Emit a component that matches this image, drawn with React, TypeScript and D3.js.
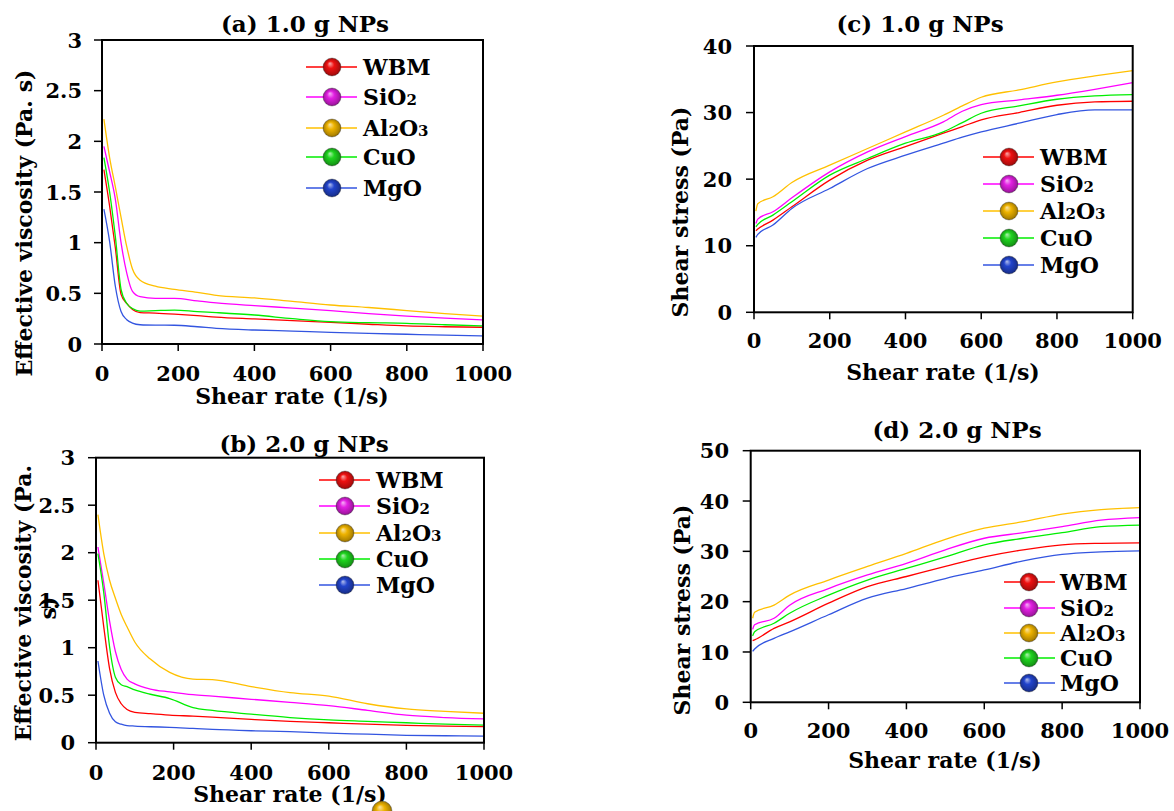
import React from 'react';
import * as d3 from 'd3';

// series names and colours
const seriesNames = ['WBM', 'SiO2', 'Al2O3', 'CuO', 'MgO'];
const lineColors = ['#ff0000', '#ff00ff', '#ffc000', '#00ee00', '#3355e0'];
const ballColors = ['#ee1111', '#e21fe2', '#eeb300', '#1fd41f', '#2244cc'];

// viscosity panels (a), (b): shear rate (1/s)
const rateVisc = [5, 20, 35, 50, 65, 80, 100, 140, 190, 250, 300, 400, 500, 600, 700, 800, 900, 1000];
// (a) 1.0 g NPs, effective viscosity (Pa.s)
const viscA_WBM = [1.72, 1.36, 0.95, 0.49, 0.40, 0.34, 0.31, 0.305, 0.295, 0.28, 0.265, 0.247, 0.23, 0.214, 0.195, 0.178, 0.17, 0.165];
const viscA_SiO2 = [1.95, 1.70, 1.43, 1.00, 0.70, 0.52, 0.467, 0.45, 0.45, 0.425, 0.405, 0.378, 0.355, 0.33, 0.30, 0.276, 0.255, 0.237];
const viscA_Al2O3 = [2.22, 1.84, 1.55, 1.25, 0.96, 0.74, 0.63, 0.57, 0.54, 0.51, 0.48, 0.455, 0.42, 0.385, 0.36, 0.33, 0.30, 0.276];
const viscA_CuO = [1.84, 1.50, 1.06, 0.54, 0.40, 0.35, 0.325, 0.33, 0.335, 0.32, 0.31, 0.286, 0.25, 0.22, 0.21, 0.204, 0.19, 0.178];
const viscA_MgO = [1.33, 1.01, 0.57, 0.32, 0.24, 0.206, 0.19, 0.186, 0.185, 0.17, 0.155, 0.138, 0.127, 0.115, 0.105, 0.096, 0.087, 0.079];
// (b) 2.0 g NPs
const viscB_WBM = [1.71, 1.22, 0.78, 0.53, 0.41, 0.35, 0.32, 0.305, 0.29, 0.28, 0.27, 0.246, 0.225, 0.21, 0.195, 0.183, 0.175, 0.17];
const viscB_SiO2 = [2.06, 1.68, 1.28, 0.96, 0.77, 0.67, 0.62, 0.565, 0.535, 0.505, 0.49, 0.457, 0.425, 0.39, 0.34, 0.29, 0.265, 0.25];
const viscB_Al2O3 = [2.40, 1.99, 1.71, 1.52, 1.35, 1.22, 1.06, 0.88, 0.74, 0.67, 0.665, 0.59, 0.527, 0.49, 0.41, 0.355, 0.33, 0.31];
const viscB_CuO = [1.99, 1.58, 1.01, 0.69, 0.61, 0.59, 0.555, 0.51, 0.465, 0.37, 0.34, 0.30, 0.265, 0.24, 0.225, 0.21, 0.195, 0.186];
const viscB_MgO = [0.86, 0.50, 0.31, 0.22, 0.195, 0.18, 0.175, 0.168, 0.162, 0.15, 0.14, 0.126, 0.116, 0.10, 0.09, 0.078, 0.073, 0.07];

// (c) 1.0 g NPs, shear stress (Pa)
const rateC = [5, 10, 50, 100, 200, 300, 400, 500, 550, 600, 700, 800, 900, 1000];
const stressC_WBM = [12.25, 12.5, 13.85, 15.85, 19.85, 22.85, 24.9, 26.9, 27.9, 28.9, 30.0, 31.1, 31.6, 31.7];
const stressC_SiO2 = [13.35, 14.0, 15.1, 17.2, 21.1, 24.1, 26.4, 28.6, 30.2, 31.2, 31.9, 32.6, 33.5, 34.5];
const stressC_Al2O3 = [15.2, 16.3, 17.35, 19.5, 22.1, 24.6, 27.1, 29.6, 31.0, 32.3, 33.4, 34.6, 35.5, 36.3];
const stressC_CuO = [12.85, 13.2, 14.6, 16.6, 20.6, 23.1, 25.4, 27.1, 28.5, 29.9, 31.0, 32.0, 32.5, 32.7];
const stressC_MgO = [11.25, 11.7, 13.1, 15.6, 18.6, 21.6, 23.6, 25.4, 26.3, 27.1, 28.4, 29.7, 30.4, 30.4];

// (d) 2.0 g NPs, shear stress (Pa)
const rateD = [5, 10, 60, 100, 200, 300, 400, 500, 600, 700, 800, 900, 1000];
const stressD_WBM = [12.25, 12.4, 14.7, 16.0, 19.7, 23.0, 25.0, 27.0, 28.9, 30.3, 31.3, 31.6, 31.7];
const stressD_SiO2 = [14.5, 15.4, 16.7, 19.3, 22.6, 25.3, 27.6, 30.3, 32.6, 33.7, 34.9, 36.2, 36.7];
const stressD_Al2O3 = [16.7, 17.9, 19.3, 21.3, 24.3, 27.0, 29.6, 32.4, 34.6, 35.9, 37.4, 38.3, 38.7];
const stressD_CuO = [13.2, 14.0, 15.7, 17.7, 21.3, 24.3, 26.6, 28.9, 31.3, 32.6, 33.7, 34.9, 35.2];
const stressD_MgO = [10.1, 10.6, 12.7, 14.0, 17.4, 20.7, 22.6, 24.6, 26.3, 28.1, 29.4, 29.9, 30.1];

const xTicks = [0, 200, 400, 600, 800, 1000];
const viscTicks = [0, 0.5, 1, 1.5, 2, 2.5, 3];
const stressTicksC = [0, 10, 20, 30, 40];
const stressTicksD = [0, 10, 20, 30, 40, 50];

const FONT = '"DejaVu Serif", "Liberation Serif", serif';

const panels = [
  {
    id: 'a', title: '(a) 1.0 g NPs', rates: rateVisc,
    series: [viscA_WBM, viscA_SiO2, viscA_Al2O3, viscA_CuO, viscA_MgO],
    box: { l: 102, r: 483, t: 40, b: 344 }, yMax: 3, yTicks: viscTicks,
    titlePos: [305, 32], yLabel: ['Effective viscosity (Pa. s)'], yLabelPos: [[24, 223]],
    yTickRight: 82, xTickBase: 381, xTitlePos: [292, 404],
    legend: { x1: 306, x2: 357, mx: 332, tx: 363, ys: [67, 97, 128, 157, 188] },
  },
  {
    id: 'b', title: '(b) 2.0 g NPs', rates: rateVisc,
    series: [viscB_WBM, viscB_SiO2, viscB_Al2O3, viscB_CuO, viscB_MgO],
    box: { l: 96, r: 484, t: 457.7, b: 742.7 }, yMax: 3, yTicks: viscTicks,
    titlePos: [304, 452], yLabel: ['Effective viscosity (Pa.', 's)'], yLabelPos: [[23, 603], [48, 608]],
    yTickRight: 75, xTickBase: 780, xTitlePos: [290, 802],
    legend: { x1: 319, x2: 370, mx: 345, tx: 376, ys: [480, 506, 533, 559, 585] },
  },
  {
    id: 'c', title: '(c) 1.0 g NPs', rates: rateC,
    series: [stressC_WBM, stressC_SiO2, stressC_Al2O3, stressC_CuO, stressC_MgO],
    box: { l: 754, r: 1132.7, t: 46, b: 312.3 }, yMax: 40, yTicks: stressTicksC,
    titlePos: [920, 32], yLabel: ['Shear stress (Pa)'], yLabelPos: [[680, 212]],
    yTickRight: 732, xTickBase: 348, xTitlePos: [943, 380],
    legend: { x1: 983, x2: 1034, mx: 1009, tx: 1040, ys: [157, 184, 211, 238, 265] },
  },
  {
    id: 'd', title: '(d) 2.0 g NPs', rates: rateD,
    series: [stressD_WBM, stressD_SiO2, stressD_Al2O3, stressD_CuO, stressD_MgO],
    box: { l: 750.7, r: 1140, t: 450.7, b: 702.3 }, yMax: 50, yTicks: stressTicksD,
    titlePos: [957, 438], yLabel: ['Shear stress (Pa)'], yLabelPos: [[682, 610]],
    yTickRight: 729, xTickBase: 738, xTitlePos: [945, 768],
    legend: { x1: 1004, x2: 1055, mx: 1029, tx: 1060, ys: [582, 608, 633, 658, 683] },
  },
];

function LegendLabel({ name, x, y }) {
  // draw digits as small subscripts like the original
  const parts = name.split(/(\d)/).filter(p => p !== '');
  return (
    <text x={x} y={y} dy="0.35em" fontSize={22} fontWeight="bold" fontFamily={FONT}>
      {parts.map((p, i) => /\d/.test(p)
        ? <tspan key={i} fontSize={15} dy={0}>{p}</tspan>
        : <tspan key={i}>{p}</tspan>)}
    </text>
  );
}

function Panel({ p }) {
  const { l, r, t, b } = p.box;
  const x = d3.scaleLinear().domain([0, 1000]).range([l, r]);
  const y = d3.scaleLinear().domain([0, p.yMax]).range([b, t]);
  const line = d3.line()
    .x((d) => x(d[0]))
    .y((d) => y(d[1]))
    .curve(d3.curveMonotoneX);

  return (
    <g>
      {p.series.map((vals, i) => (
        <path key={i} d={line(p.rates.map((rt, j) => [rt, vals[j]]))}
          fill="none" stroke={lineColors[i]} strokeWidth={1.3} />
      ))}
      <rect x={l} y={t} width={r - l} height={b - t} fill="none" stroke="#000" strokeWidth={2} />
      {p.yTicks.map((v) => (
        <g key={v}>
          <line x1={l - 8} x2={l} y1={y(v)} y2={y(v)} stroke="#000" strokeWidth={1.5} />
          <text x={p.yTickRight} y={y(v)} dy="0.36em" textAnchor="end" fontSize={21}
            fontWeight="bold" fontFamily={FONT}>{v}</text>
        </g>
      ))}
      {xTicks.map((v) => (
        <g key={v}>
          <line x1={x(v)} x2={x(v)} y1={b} y2={b + 7} stroke="#000" strokeWidth={1.5} />
          <text x={x(v)} y={p.xTickBase} textAnchor="middle" fontSize={21}
            fontWeight="bold" fontFamily={FONT}>{v}</text>
        </g>
      ))}
      <text x={p.titlePos[0]} y={p.titlePos[1]} textAnchor="middle" fontSize={23}
        fontWeight="bold" fontFamily={FONT}>{p.title}</text>
      <text x={p.xTitlePos[0]} y={p.xTitlePos[1]} textAnchor="middle" fontSize={22}
        fontWeight="bold" fontFamily={FONT}>Shear rate (1/s)</text>
      {p.yLabel.map((s, i) => (
        <text key={i} transform={`translate(${p.yLabelPos[i][0]},${p.yLabelPos[i][1]}) rotate(-90)`}
          textAnchor="middle" dy="0.35em" fontSize={22} fontWeight="bold" fontFamily={FONT}>{s}</text>
      ))}
      {seriesNames.map((name, i) => (
        <g key={name}>
          <line x1={p.legend.x1} x2={p.legend.x2} y1={p.legend.ys[i]} y2={p.legend.ys[i]}
            stroke={lineColors[i]} strokeWidth={1.5} />
          <circle cx={p.legend.mx} cy={p.legend.ys[i]} r={9} fill={`url(#ball${i})`}
            stroke="rgba(60,60,60,0.45)" strokeWidth={0.8} />
          <LegendLabel name={name} x={p.legend.tx} y={p.legend.ys[i]} />
        </g>
      ))}
    </g>
  );
}

export default function App() {
  return (
    <div style={{ position: 'absolute', left: 0, top: 0 }}>
      <svg width={1174} height={811} style={{ display: 'block', background: '#fff' }}>
        <defs>
          {ballColors.map((c, i) => (
            <radialGradient key={i} id={`ball${i}`} cx="50%" cy="50%" r="50%" fx="38%" fy="30%">
              <stop offset="0%" stopColor={d3.interpolateRgb(c, '#ffffff')(0.65)} />
              <stop offset="40%" stopColor={c} />
              <stop offset="85%" stopColor={d3.color(c).darker(0.8).formatHex()} />
              <stop offset="100%" stopColor={d3.color(c).darker(1.6).formatHex()} />
            </radialGradient>
          ))}
        </defs>
        {panels.map((p) => <Panel key={p.id} p={p} />)}
        {/* stray legend ball under panel (b) */}
        <circle cx={382} cy={811} r={10} fill="url(#ball2)" stroke="rgba(60,60,60,0.45)" strokeWidth={0.8} />
      </svg>
    </div>
  );
}
